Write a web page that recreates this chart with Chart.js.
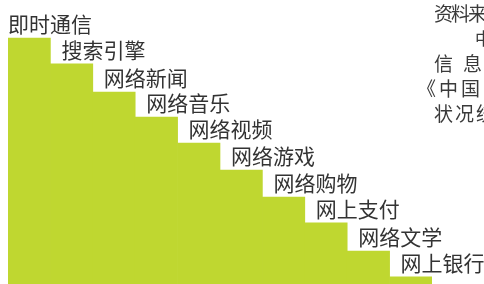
<!DOCTYPE html>
<html>
<head>
<meta charset="utf-8">
<script src="https://cdn.jsdelivr.net/npm/chart.js@4/dist/chart.umd.min.js"></script>
<style>
  html, body { margin: 0; padding: 0; background: #fff; overflow: hidden; }
  #wrap { position: relative; width: 484px; height: 284px; overflow: hidden; }
  #note {
    position: absolute; left: 434px; top: 0; width: 200px;
    font: 19px "Noto Sans CJK SC", sans-serif; line-height: 25px;
    color: #3a3a3a; white-space: nowrap;
  }
  #note .l1 { letter-spacing: -2px; }
  #note .l2 { padding-left: 41px; font-size: 17px; }
  #note .l3 span { margin-left: 10px; }
  #note .l3 span.far { margin-left: 40px; }
  #note .l4 { margin-left: -17px; letter-spacing: 3px; }
  #note .l5 { letter-spacing: 2px; }
</style>
</head>
<body>
<div id="wrap">
  <canvas id="chart" width="484" height="284"></canvas>
  <div id="note">
    <div class="l1">资料来源：</div>
    <div class="l2">中国互联网络</div>
    <div class="l3">信<span>息</span><span class="far">中心</span></div>
    <div class="l4">《中国互联网络发展</div>
    <div class="l5">状况统计报告》</div>
  </div>
</div>
<script>
const categories = ['即时通信', '搜索引擎', '网络新闻', '网络音乐', '网络视频', '网络游戏', '网络购物', '网上支付', '网络文学', '网上银行']
const usageRates = [86.6, 77.5, 67.6, 58.8, 49.6, 40.1, 30.6, 21.5, 11.6, 2.5]

const stepLabels = {
  id: 'stepLabels',
  afterDatasetsDraw(chart) {
    const ctx = chart.ctx
    const bars = chart.getDatasetMeta(0).data
    ctx.save()
    ctx.font = '21px "Noto Sans CJK SC", sans-serif'
    ctx.fillStyle = '#333333'
    ctx.textAlign = 'left'
    ctx.textBaseline = 'middle'
    bars.forEach((bar, i) => {
      const left = bar.x - bar.width / 2
      ctx.fillText(categories[i], left + (i === 0 ? 0 : 11), bar.y - 14)
    })
    ctx.restore()
  }
}

new Chart(document.getElementById('chart').getContext('2d'), {
  type: 'bar',
  data: {
    labels: categories,
    datasets: [
      {
        data: usageRates,
        backgroundColor: '#bfd730',
        borderWidth: 0,
        barPercentage: 1,
        categoryPercentage: 1,
      },
    ],
  },
  options: {
    responsive: false,
    animation: false,
    layout: { padding: { left: 8, right: 52, top: 0, bottom: 0 } },
    plugins: { legend: { display: false }, tooltip: { enabled: false } },
    scales: {
      x: { display: false },
      y: { display: false, min: 0, max: 100 },
    },
  },
  plugins: [stepLabels],
})
</script>
</body>
</html>
